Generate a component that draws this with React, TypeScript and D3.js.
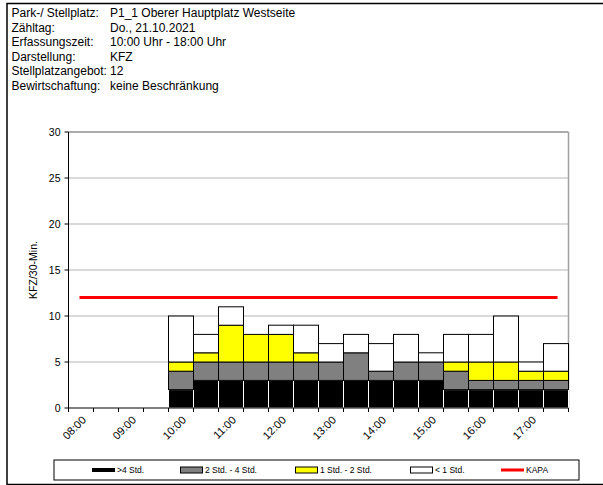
import React from 'react';
import * as d3 from 'd3';

const headerLabels = ['Park-/ Stellplatz:', 'Zähltag:', 'Erfassungszeit:', 'Darstellung:', 'Stellplatzangebot:', 'Bewirtschaftung:'];
const headerValues = ['P1_1 Oberer Hauptplatz Westseite', 'Do., 21.10.2021', '10:00 Uhr - 18:00 Uhr', 'KFZ', '12', 'keine Beschränkung'];

const times = ['08:00', '08:30', '09:00', '09:30', '10:00', '10:30', '11:00', '11:30', '12:00', '12:30', '13:00', '13:30', '14:00', '14:30', '15:00', '15:30', '16:00', '16:30', '17:00', '17:30'];
const over4 = [0, 0, 0, 0, 2, 3, 3, 3, 3, 3, 3, 3, 3, 3, 3, 2, 2, 2, 2, 2];
const h2to4 = [0, 0, 0, 0, 2, 2, 2, 2, 2, 2, 2, 3, 1, 2, 2, 2, 1, 1, 1, 1];
const h1to2 = [0, 0, 0, 0, 1, 1, 4, 3, 3, 1, 0, 0, 0, 0, 0, 1, 2, 2, 1, 1];
const under1 = [0, 0, 0, 0, 5, 2, 2, 0, 1, 3, 2, 2, 3, 3, 1, 3, 3, 5, 1, 3];
const kapa = 12;
const yTicks = [0, 5, 10, 15, 20, 25, 30];

const seriesNames = ['>4 Std.', '2 Std. - 4 Std.', '1 Std. - 2 Std.', '< 1 Std.', 'KAPA'];
const seriesKeys = ['over4', 'h2to4', 'h1to2', 'under1'];
const seriesFill = ['#000000', '#808080', '#ffff00', '#ffffff'];

const FONT = 'Arial, "Liberation Sans", sans-serif';

export default function App() {
  const left = 68.5, right = 568.5, top = 132, bottom = 408;
  const x = d3.scaleBand<string>().domain(times).range([left, right]).padding(0);
  const y = d3.scaleLinear().domain([0, 30]).range([bottom, top]);

  const table = times.map((t, i) => ({ t, over4: over4[i], h2to4: h2to4[i], h1to2: h1to2[i], under1: under1[i] }));
  const stacked = d3.stack<any>().keys(seriesKeys)(table);

  const bw = x.bandwidth();
  const legendX = [92, 180, 295, 410, 501];
  const legendY = 470;

  return (
    <svg width={603} height={485} style={{ position: 'absolute', left: 0, top: 0, background: '#fff' }} fontFamily={FONT}>
      <rect x={7} y={3.5} width={620} height={481} fill="#fff" stroke="#000" strokeWidth={1.5} />
      {headerLabels.map((l, i) => (
        <g key={l}>
          <text x={11.5} y={17 + i * 14.5} fontSize={12}>{l}</text>
          <text x={110} y={17 + i * 14.5} fontSize={12}>{headerValues[i]}</text>
        </g>
      ))}
      {/* gridlines */}
      {yTicks.filter(v => v > 0).map(v => (
        <line key={v} x1={left} x2={right} y1={y(v)} y2={y(v)} stroke={v === 30 ? '#909090' : '#b4b4b4'} strokeWidth={v === 30 ? 1.5 : 1} />
      ))}
      <line x1={right} x2={right} y1={top} y2={bottom} stroke="#a0a0a0" strokeWidth={1.5} />
      {/* bars */}
      {stacked.map((s, si) => (
        <g key={s.key}>
          {s.map((d, i) => {
            const h = y(d[0]) - y(d[1]);
            if (h <= 0) return null;
            return (
              <rect key={i} x={x(times[i])!} y={y(d[1])} width={bw} height={h}
                fill={seriesFill[si]} stroke={si === 0 ? '#fff' : '#000'} strokeWidth={1} />
            );
          })}
        </g>
      ))}
      {/* KAPA */}
      <line x1={x(times[0])! + bw / 2} x2={x(times[times.length - 1])! + bw / 2} y1={y(kapa)} y2={y(kapa)}
        stroke="#ff0000" strokeWidth={3} strokeLinecap="square" />
      {/* axes */}
      <line x1={left} x2={left} y1={top} y2={bottom} stroke="#000" strokeWidth={1} />
      <line x1={left} x2={right} y1={bottom} y2={bottom} stroke="#000" strokeWidth={1} />
      {yTicks.map(v => (
        <g key={v}>
          <line x1={left - 4} x2={left} y1={y(v)} y2={y(v)} stroke="#000" />
          <text x={60.5} y={y(v)} dy="0.35em" textAnchor="end" fontSize={10.5}>{v}</text>
        </g>
      ))}
      {times.map((t, i) => (
        <line key={t} x1={x(t)!} x2={x(t)!} y1={bottom} y2={bottom + 4} stroke="#000" />
      ))}
      <line x1={right} x2={right} y1={bottom} y2={bottom + 4} stroke="#000" />
      {times.map((t, i) => i % 2 === 0 ? (
        <text key={t} transform={`translate(${x(t)! + bw / 2 + 3},${bottom + 10}) rotate(-45)`}
          textAnchor="end" dy="0.35em" fontSize={11}>{t}</text>
      ) : null)}
      <text transform={`translate(33,${(top + bottom) / 2}) rotate(-90)`} textAnchor="middle" dy="0.35em" fontSize={10.5}>KFZ/30-Min.</text>
      {/* legend */}
      <rect x={54} y={460} width={525} height={20} fill="#fff" stroke="#000" strokeWidth={1} />
      {seriesNames.map((n, i) => (
        <g key={n}>
          {i === 0 ? (
            <rect x={legendX[i]} y={legendY - 2} width={23} height={4} fill="#000" />
          ) : i === 4 ? (
            <rect x={legendX[i]} y={legendY - 1.5} width={23} height={3} fill="#ff0000" />
          ) : (
            <rect x={legendX[i] + 0.5} y={legendY - 3} width={22} height={6} fill={seriesFill[i]} stroke="#000" strokeWidth={1} />
          )}
          <text x={legendX[i] + 25} y={legendY} dy="0.35em" fontSize={8.5}>{n}</text>
        </g>
      ))}
    </svg>
  );
}
